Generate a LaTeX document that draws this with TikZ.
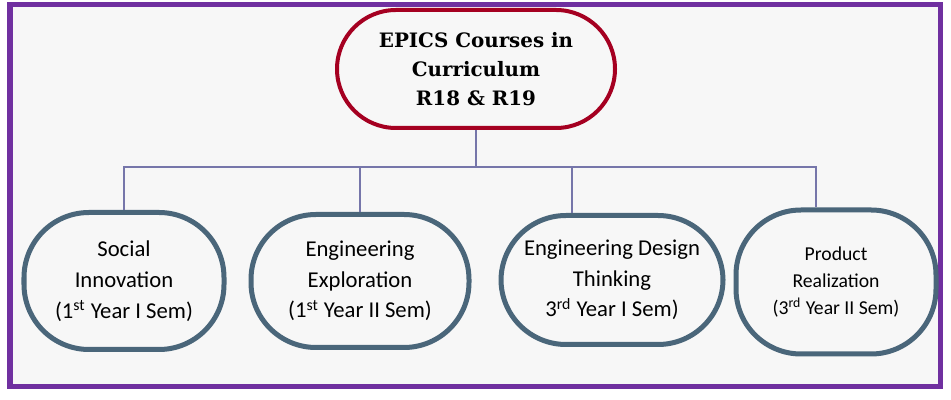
\documentclass[tikz,border=0pt]{standalone}
\usepackage{fontspec}
\setmainfont{Carlito}
\newfontfamily\titlefont{DejaVu Serif}
\usepackage{tikz}
\definecolor{framepurple}{RGB}{112,48,160}
\definecolor{headred}{RGB}{165,0,33}
\definecolor{slateblue}{RGB}{74,102,122}
\definecolor{linkgray}{RGB}{118,118,170}
\definecolor{paper}{RGB}{247,247,247}

\begin{document}
\begin{tikzpicture}[
    head/.style={rectangle, rounded corners=1.18cm, draw=headred, line width=0.08cm, fill=paper, align=center, font=\titlefont\bfseries\fontsize{11.3}{16.5}\selectfont, minimum width=5.56cm, minimum height=2.36cm},
    course/.style={rectangle, rounded corners=1.3cm, draw=slateblue, line width=0.1cm, fill=paper, align=center, font=\fontsize{12.9}{17.5}\selectfont},
    link/.style={-, draw=linkgray, line width=0.6pt}
]
\useasboundingbox (0,0) rectangle (19.02,8);

% Frame
\draw[framepurple, line width=0.1cm, fill=paper] (0.2,0.26) rectangle (18.8,7.9);

% Nodes
\node[head] (epics) at (9.52, 6.62) {EPICS Courses in\\Curriculum\\R18 \& R19};
\node[course, minimum width=4.0cm, minimum height=2.74cm] (social) at (2.48, 2.38) {Social\\Innovation\\(1\textsuperscript{st} Year I Sem)};
\node[course, minimum width=4.36cm, minimum height=2.66cm] (explore) at (7.2, 2.38) {Engineering\\Exploration\\(1\textsuperscript{st} Year II Sem)};
\node[course, minimum width=4.44cm, minimum height=2.58cm] (design) at (12.24, 2.4) {Engineering Design\\Thinking\\3\textsuperscript{rd} Year I Sem)};
\node[course, minimum width=4.0cm, minimum height=2.88cm, font=\fontsize{11.2}{15.5}\selectfont] (product) at (16.72, 2.36) {Product\\Realization\\(3\textsuperscript{rd} Year II Sem)};

\coordinate (hub) at (9.52, 4.66);

% Edges
\draw[link] (epics) -- (hub);
\draw[link] (hub) -| (social);
\draw[link] (hub) -| (explore);
\draw[link] (hub) -| ([xshift=-0.8cm]design.north);
\draw[link] (hub) -| ([xshift=-0.4cm]product.north);

\end{tikzpicture}
\end{document}
